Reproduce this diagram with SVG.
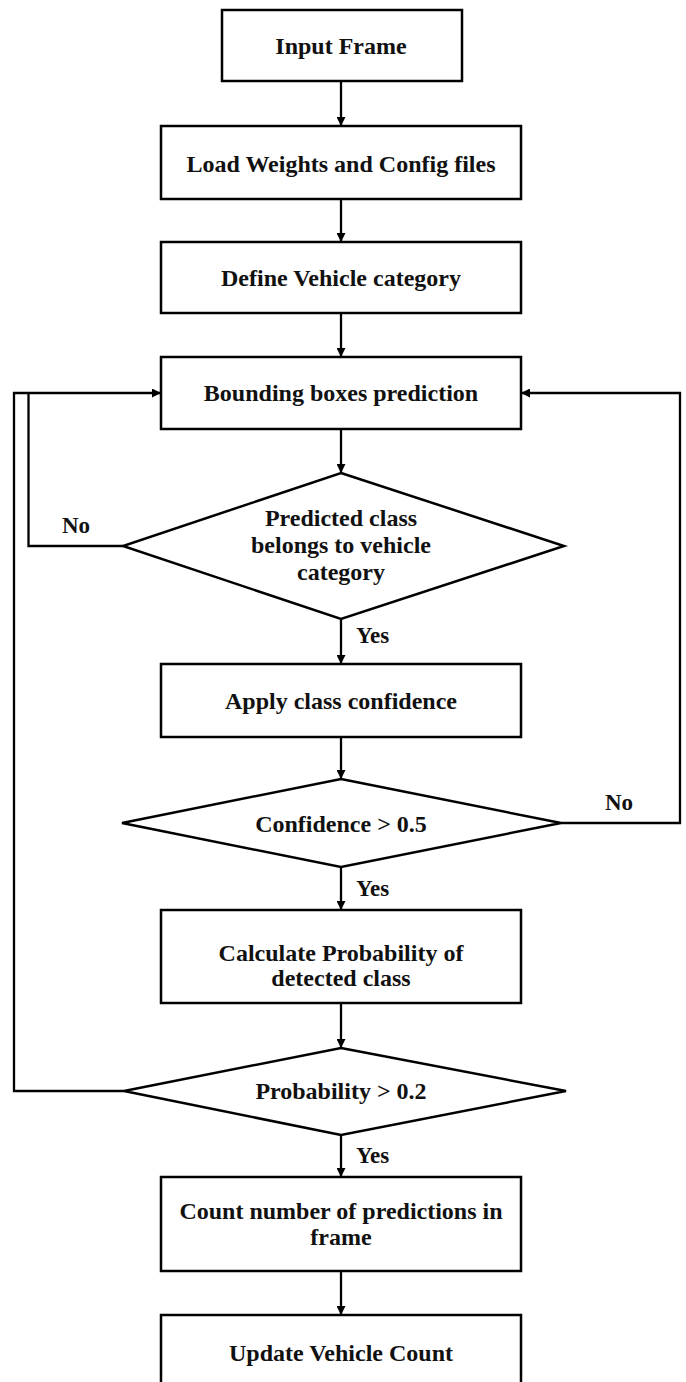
<svg xmlns="http://www.w3.org/2000/svg" width="686" height="1382" viewBox="0 0 686 1382">
<style>
.box{fill:#fff;stroke:#000;stroke-width:2.5}
.dia{fill:#fff;stroke:#000;stroke-width:2.5}
.t{font-family:"Liberation Serif","Times New Roman",serif;font-weight:bold;font-size:24px;fill:#111;text-anchor:middle}
.lbl{font-family:"Liberation Serif","Times New Roman",serif;font-weight:bold;font-size:23px;fill:#111}
.c{fill:none;stroke:#000;stroke-width:2.3}
</style>
<defs>
<marker id="ah" viewBox="0 0 10 10" refX="10" refY="5" markerWidth="10" markerHeight="9" markerUnits="userSpaceOnUse" orient="auto">
<path d="M0,0 L10,5 L0,10 z" fill="#000"/>
</marker>
</defs>
<rect width="686" height="1382" fill="#fff"/>
<g id="connectors">
<line class="c" x1="341" y1="81" x2="341" y2="126" marker-end="url(#ah)"/>
<line class="c" x1="341" y1="199" x2="341" y2="242" marker-end="url(#ah)"/>
<line class="c" x1="341" y1="313" x2="341" y2="357" marker-end="url(#ah)"/>
<line class="c" x1="341" y1="429" x2="341" y2="473" marker-end="url(#ah)"/>
<line class="c" x1="341" y1="619" x2="341" y2="664" marker-end="url(#ah)"/>
<line class="c" x1="341" y1="737" x2="341" y2="779" marker-end="url(#ah)"/>
<line class="c" x1="341" y1="867" x2="341" y2="910" marker-end="url(#ah)"/>
<line class="c" x1="341" y1="1003" x2="341" y2="1048" marker-end="url(#ah)"/>
<line class="c" x1="341" y1="1135" x2="341" y2="1177" marker-end="url(#ah)"/>
<line class="c" x1="341" y1="1271" x2="341" y2="1315" marker-end="url(#ah)"/>
<polyline class="c" points="123,546 28.5,546 28.5,393"/>
<polyline class="c" points="124,1091 14,1091 14,393 161,393" marker-end="url(#ah)"/>
<polyline class="c" points="561,823 680,823 680,393 521,393" marker-end="url(#ah)"/>
<text class="lbl" x="62" y="533">No</text>
<text class="lbl" x="356" y="643">Yes</text>
<text class="lbl" x="605" y="810">No</text>
<text class="lbl" x="356" y="896">Yes</text>
<text class="lbl" x="356" y="1163">Yes</text>
</g>
<g id="n1"><rect class="box" x="222" y="10" width="240" height="71"/><text class="t" x="341" y="53.5">Input Frame</text></g>
<g id="n2"><rect class="box" x="161" y="126" width="360" height="73"/><text class="t" x="341" y="171.5">Load Weights and Config files</text></g>
<g id="n3"><rect class="box" x="161" y="242" width="360" height="71"/><text class="t" x="341" y="286">Define Vehicle category</text></g>
<g id="n4"><rect class="box" x="161" y="357" width="360" height="72"/><text class="t" x="341" y="401">Bounding boxes prediction</text></g>
<g id="d1"><polygon class="dia" points="341,473 564,546 341,619 123,546"/><text class="t" x="341" y="526">Predicted class</text><text class="t" x="341" y="553">belongs to vehicle</text><text class="t" x="341" y="580">category</text></g>
<g id="n5"><rect class="box" x="161" y="664" width="360" height="73"/><text class="t" x="341" y="709">Apply class confidence</text></g>
<g id="d2"><polygon class="dia" points="341,779 561,823 341,867 122,823"/><text class="t" x="341" y="831.5">Confidence &gt; 0.5</text></g>
<g id="n6"><rect class="box" x="161" y="910" width="360" height="93"/><text class="t" x="341" y="961">Calculate Probability of</text><text class="t" x="341" y="986">detected class</text></g>
<g id="d3"><polygon class="dia" points="341,1048 566,1091 341,1135 124,1091"/><text class="t" x="341" y="1099">Probability &gt; 0.2</text></g>
<g id="n7"><rect class="box" x="161" y="1177" width="360" height="94"/><text class="t" x="341" y="1219">Count number of predictions in</text><text class="t" x="341" y="1245">frame</text></g>
<g id="n8"><rect class="box" x="161" y="1315" width="360" height="72"/><text class="t" x="341" y="1361">Update Vehicle Count</text></g>
</svg>
